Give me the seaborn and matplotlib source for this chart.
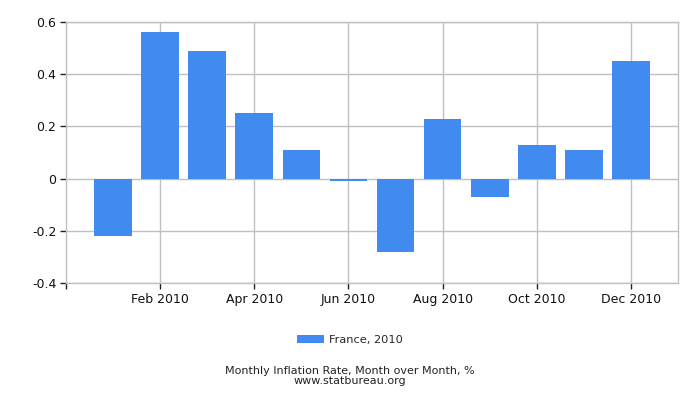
import pandas as pd
import matplotlib.pyplot as plt
import seaborn as sns

months = ['Jan', 'Feb', 'Mar', 'Apr', 'May', 'Jun', 'Jul', 'Aug', 'Sep', 'Oct', 'Nov', 'Dec']
rates = [-0.22, 0.56, 0.49, 0.25, 0.11, -0.01, -0.28, 0.23, -0.07, 0.13, 0.11, 0.45]
series_name = 'France, 2010'
tick_months = ['Feb', 'Apr', 'Jun', 'Aug', 'Oct', 'Dec']
tick_labels = ['Feb 2010', 'Apr 2010', 'Jun 2010', 'Aug 2010', 'Oct 2010', 'Dec 2010']
y_ticks = [-0.4, -0.2, 0, 0.2, 0.4, 0.6]

bar_color = '#418bf0'
grid_color = '#c0c0c0'


def main():
    df = pd.DataFrame({'month': months, 'rate': rates, 'series': series_name})

    sns.set_style('white')
    plt.rcParams['font.family'] = ['DejaVu Sans']

    fig = plt.figure(figsize=(7, 4), dpi=100)
    ax = fig.add_axes([0.0943, 0.2925, 0.8743, 0.6525])

    sns.barplot(data=df, x='month', y='rate', hue='series', order=months,
                palette=[bar_color], width=0.8, saturation=1, linewidth=0,
                ax=ax, zorder=3)

    ax.set_xlim(-1, 12)
    ax.set_ylim(-0.4, 0.6)
    ax.set_xticks([months.index(m) for m in tick_months])
    ax.set_xticklabels(tick_labels, fontsize=9)
    ax.set_xticks([-1], minor=True)
    ax.set_yticks(y_ticks)
    ax.set_yticklabels(['-0.4', '-0.2', '0', '0.2', '0.4', '0.6'], fontsize=9)
    ax.set_xlabel('')
    ax.set_ylabel('')

    ax.grid(True, which='major', color=grid_color, linewidth=1, zorder=0)
    ax.set_axisbelow(True)
    for s in ax.spines.values():
        s.set_color(grid_color)
        s.set_linewidth(1)
    ax.tick_params(axis='both', which='both', length=4, width=1, color='#222222',
                   labelcolor='#111111', pad=3, direction='out')
    ax.tick_params(axis='x', which='both', bottom=True)
    ax.tick_params(axis='y', left=True)

    handles, labels = ax.get_legend_handles_labels()
    ax.get_legend().remove()
    fig.legend(handles, labels, loc='center', bbox_to_anchor=(0.5, 0.15), frameon=False,
               fontsize=8.2, handlelength=2.4, handleheight=0.7, handletextpad=0.45)

    fig.text(0.5, 0.072, 'Monthly Inflation Rate, Month over Month, %', ha='center', va='center',
             fontsize=8, color='#222222')
    fig.text(0.5, 0.047, 'www.statbureau.org', ha='center', va='center', fontsize=8, color='#222222')

    fig.savefig('out.png', dpi=100)


if __name__ == '__main__':
    main()
